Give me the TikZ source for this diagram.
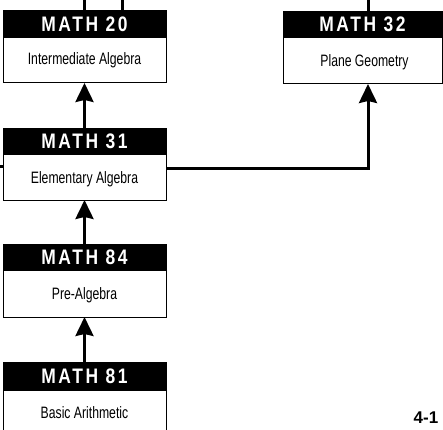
\documentclass[tikz,border=0pt]{standalone}
\usepackage{graphicx}
\usepackage{fontspec}
\setmainfont{Liberation Sans}
\newfontfamily\hdfont{Liberation Sans}[LetterSpace=15]
\usetikzlibrary{arrows.meta,calc}
\newcommand\subtxt[1]{\scalebox{0.74}[1]{\fontsize{16.5}{18}\selectfont #1}}
\newcommand\hdtxt[1]{\raisebox{1.5pt}{\scalebox{0.83}[1]{\hdfont\bfseries\fontsize{21}{21}\selectfont #1}}}
\tikzset{
  box/.style={draw, line width=1pt, minimum width=163pt, minimum height=#1, anchor=north west, inner sep=0pt, outer sep=0pt},
  hdr/.style={fill=black, text=white, minimum width=163pt, minimum height=27pt, anchor=north west, inner sep=0pt, outer sep=0pt},
  sub/.style={anchor=base, inner sep=0pt},
  link/.style={line width=3pt},
  arr/.style={link, -{Stealth[length=19pt,width=18pt,inset=2pt]}}
}
\begin{document}
\begin{tikzpicture}[x=1pt,y=1pt]
\useasboundingbox (0,0) rectangle (443,429);
% boxes (y = 429 - reference y)
\node[box=72pt] (m20) at (3,418) {};
\node[hdr] (h20) at (3,418) {\hdtxt{MATH\hspace{9pt}20}};
\node[sub] (t20) at (84.5,364) {\subtxt{Intermediate Algebra}};

\node[box=72pt, minimum width=159pt] (m32) at (283,417) {};
\node[hdr, minimum width=159pt, minimum height=26pt] (h32) at (283,417) {\hdtxt{MATH\hspace{9pt}32}};
\node[sub] (t32) at (364.5,362) {\subtxt{Plane Geometry}};

\node[box=72pt] (m31) at (3,301) {};
\node[hdr] (h31) at (3,301) {\hdtxt{MATH\hspace{9pt}31}};
\node[sub] (t31) at (84.5,246) {\subtxt{Elementary Algebra}};

\node[box=73pt] (m84) at (3,185) {};
\node[hdr] (h84) at (3,185) {\hdtxt{MATH\hspace{9pt}84}};
\node[sub] (t84) at (84.5,130) {\subtxt{Pre-Algebra}};

\node[box=80pt] (m81) at (3,67) {};
\node[hdr, minimum height=29pt] (h81) at (3,67) {\hdtxt{MATH\hspace{9pt}81}};
\node[sub] (t81) at (84.5,11) {\subtxt{Basic Arithmetic}};

\node[anchor=base, inner sep=0pt, font=\bfseries\fontsize{17}{17}\selectfont] (pg) at (426,6) {4-1};

% free ends
\coordinate (top20a) at (84,429);
\coordinate (top20b) at (122,429);
\coordinate (top32) at (368,429);
\coordinate (left31) at (0,263);
\coordinate (turn) at (368,261);

% connectors
\draw[link] (top20a) -- (top20a |- m20.north);
\draw[link] (top20b) -- (top20b |- m20.north);
\draw[link] (top32) -- (top32 |- m32.north);
\draw[link] (left31) -- (left31 -| m31.west);
\draw[arr] (m31.north) -- (m20.south);
\draw[arr] (m84.north) -- (m31.south);
\draw[arr] (m81.north) -- (m84.south);
\draw[arr] (turn -| m31.east) -- (turn) -- (turn |- m32.south);
\end{tikzpicture}
\end{document}
